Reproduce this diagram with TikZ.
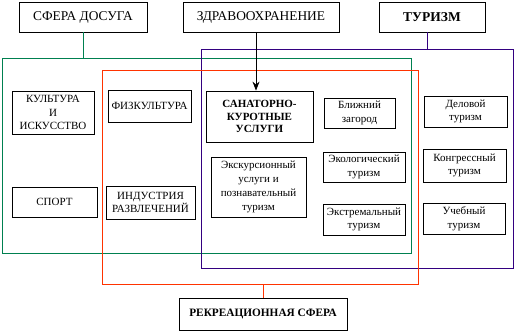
\documentclass[tikz,border=0pt]{standalone}
\usepackage{fontspec}
\setmainfont{Liberation Serif}
\usetikzlibrary{arrows.meta}
\definecolor{dosuggreen}{RGB}{0,128,80}
\definecolor{rekrred}{RGB}{255,51,0}
\definecolor{turviolet}{RGB}{51,0,128}
\tikzset{
    blok/.style={draw, line width=0.8pt, inner sep=0pt, align=center,
        font=\fontsize{11}{13.5}\selectfont},
    shapka/.style={blok, font=\fontsize{13.4}{14}\selectfont},
    zona/.style={draw, line width=0.9pt, inner sep=0pt},
}
\begin{document}
\begin{tikzpicture}[x=1pt, y=-1pt]
    \useasboundingbox (0,0) rectangle (516,332);

    % сферы
    \node[zona, dosuggreen, minimum width=409, minimum height=195] (green) at (206.5,155.5) {};
    \node[zona, turviolet, minimum width=312, minimum height=219] (violet) at (357,158.5) {};
    \node[zona, rekrred, minimum width=316, minimum height=214] (red) at (260,177) {};

    % верхние блоки
    \node[shapka, minimum width=128, minimum height=30] (dosug) at (83,17) {СФЕРА ДОСУГА};
    \node[shapka, minimum width=156, minimum height=30] (zdrav) at (261,17) {ЗДРАВООХРАНЕНИЕ};
    \node[shapka, minimum width=106, minimum height=30, font=\fontsize{13.5}{14}\selectfont\bfseries] (turizm) at (432,17) {ТУРИЗМ};

    % нижний блок
    \node[shapka, minimum width=168, minimum height=32, font=\fontsize{11.3}{14}\selectfont\bfseries] (rekr) at (263,314) {РЕКРЕАЦИОННАЯ СФЕРА};

    % досуг
    \node[blok, minimum width=82, minimum height=43] (kult) at (53,112.5) {КУЛЬТУРА\\И\\ИСКУССТВО};
    \node[blok, minimum width=85, minimum height=30] (sport) at (54.5,202) {СПОРТ};
    \node[blok, minimum width=83, minimum height=32] (fizk) at (149.5,106) {ФИЗКУЛЬТУРА};
    \node[blok, minimum width=89, minimum height=33] (indus) at (150.5,202.5) {ИНДУСТРИЯ\\РАЗВЛЕЧЕНИЙ};

    % центр
    \node[blok, minimum width=107, minimum height=51, font=\fontsize{11}{12.5}\selectfont\bfseries] (sanat) at (259.5,116.5) {САНАТОРНО-\\КУРОТНЫЕ\\УСЛУГИ};
    \node[blok, minimum width=95, minimum height=60, font=\fontsize{11}{14}\selectfont] (ekskurs) at (258.5,187) {Экскурсионный\\услуги и\\познавательный\\туризм};
    \node[blok, minimum width=71, minimum height=30] (blizh) at (359.5,113) {Ближний\\загород};
    \node[blok, minimum width=82, minimum height=30] (ekol) at (364,167) {Экологический\\туризм};
    \node[blok, minimum width=82, minimum height=31] (ekstr) at (364,219.5) {Экстремальный\\туризм};

    % туризм
    \node[blok, minimum width=83, minimum height=31] (delov) at (465.5,111.5) {Деловой\\туризм};
    \node[blok, minimum width=83, minimum height=33] (kongr) at (464.5,165.5) {Конгрессный\\туризм};
    \node[blok, minimum width=82, minimum height=31] (ucheb) at (464,218.5) {Учебный\\туризм};

    % связи
    \draw[dosuggreen, line width=0.9pt] (dosug.south) -- (dosug.south |- green.north);
    \draw[turviolet, line width=0.9pt] ([xshift=-5]turizm.south) -- ([xshift=-5]turizm.south |- violet.north);
    \draw[rekrred, line width=0.9pt] (red.south -| rekr.north) -- (rekr.north);
    \draw[line width=0.9pt, -{Stealth[length=9pt, width=7pt]}] (zdrav.south -| 256,0) -- (sanat.north -| 256,0);
\end{tikzpicture}
\end{document}
